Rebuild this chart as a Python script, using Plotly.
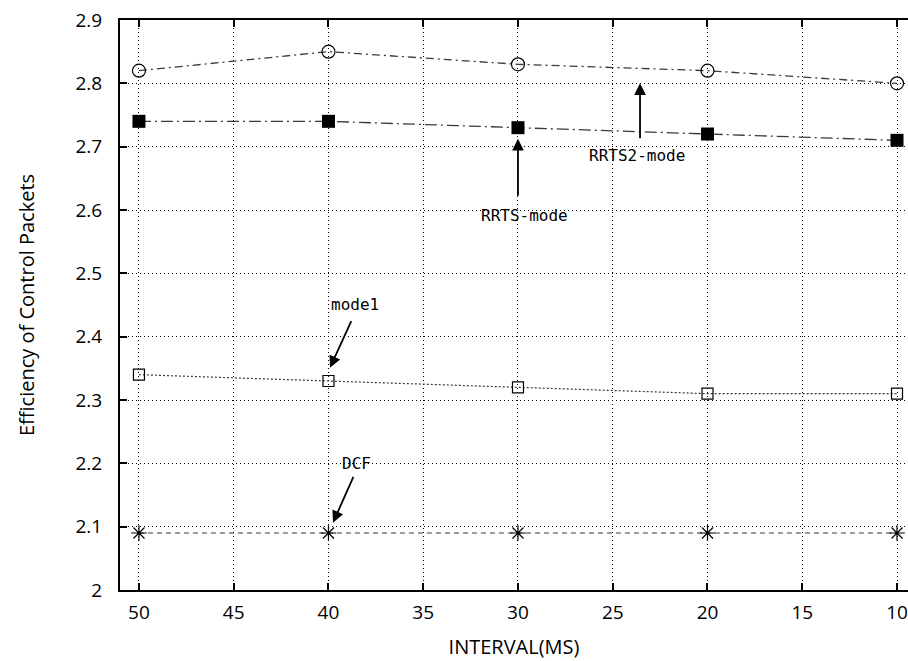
import plotly.graph_objects as go

intervals = [50, 40, 30, 20, 10]
rrts2_mode = [2.82, 2.85, 2.83, 2.82, 2.80]
rrts_mode = [2.74, 2.74, 2.73, 2.72, 2.71]
mode1 = [2.34, 2.33, 2.32, 2.31, 2.31]
dcf = [2.09, 2.09, 2.09, 2.09, 2.09]

x_ticks = [50, 45, 40, 35, 30, 25, 20, 15, 10]
y_ticks = [2.0, 2.1, 2.2, 2.3, 2.4, 2.5, 2.6, 2.7, 2.8, 2.9]
y_tick_text = ["2", "2.1", "2.2", "2.3", "2.4", "2.5", "2.6", "2.7", "2.8", "2.9"]

# labels: (text, text_x, text_y, tail_x, tail_y, tip_x, tip_y)
labels = [
    ("RRTS2-mode", 23.74, 2.686, 23.56, 2.711, 23.56, 2.800),
    ("RRTS-mode", 29.63, 2.591, 30.0, 2.620, 30.0, 2.7125),
    ("mode1", 38.6, 2.451, 38.76, 2.427, 39.92, 2.351),
    ("DCF", 38.5, 2.1995, 38.65, 2.181, 39.76, 2.1063),
]

line_col = "#3a3a3a"
fig = go.Figure()
fig.add_trace(go.Scatter(
    x=intervals, y=rrts2_mode, mode="lines+markers", name="RRTS2-mode",
    line=dict(color=line_col, width=1.3, dash="8px,4px,2px,4px"),
    marker=dict(symbol="circle-open", size=13, color="black", line=dict(width=1.2, color="black"))))
fig.add_trace(go.Scatter(
    x=intervals, y=rrts_mode, mode="lines+markers", name="RRTS-mode",
    line=dict(color=line_col, width=1.3, dash="12px,4px,2px,4px"),
    marker=dict(symbol="square", size=13, color="black")))
fig.add_trace(go.Scatter(
    x=intervals, y=mode1, mode="lines+markers", name="mode1",
    line=dict(color=line_col, width=1.2, dash="2px,2px"),
    marker=dict(symbol="square-open", size=11, color="black", line=dict(width=1.2, color="black"))))
fig.add_trace(go.Scatter(
    x=intervals, y=dcf, mode="lines+markers", name="DCF",
    line=dict(color=line_col, width=1.2, dash="5px,4px"),
    marker=dict(symbol="asterisk-open", size=13, color="black", line=dict(width=1.2, color="black"))))

mono = "DejaVu Sans Mono, Liberation Mono, monospace"
for text, tx, ty, ax_, ay_, px, py in labels:
    fig.add_annotation(x=tx, y=ty, text=text, showarrow=False,
                       font=dict(family=mono, size=16, color="black"),
                       xanchor="center", yanchor="middle")
    fig.add_annotation(x=px, y=py, ax=ax_, ay=ay_, axref="x", ayref="y",
                       xref="x", yref="y", text="", showarrow=True,
                       arrowhead=2, arrowsize=1.3, arrowwidth=1.8,
                       arrowcolor="black", standoff=0, startstandoff=0)

sans = "Open Sans, Noto Sans, sans-serif"
tick_font = dict(family=sans, size=19, color="black")
fig.update_layout(
    width=908, height=661,
    margin=dict(l=120, r=0, t=20, b=71),
    paper_bgcolor="white", plot_bgcolor="white",
    showlegend=False,
    xaxis=dict(
        range=[51.0, 9.42], tickvals=x_ticks, ticktext=[str(v) for v in x_ticks],
        ticks="inside", ticklen=7, tickwidth=2, tickcolor="black",
        showline=True, linewidth=2, linecolor="black", mirror="ticks",
        showgrid=True, gridcolor="black", gridwidth=1, griddash="1px,3px",
        zeroline=False, tickfont=tick_font, ticklabelstandoff=4,
        title=dict(text="INTERVAL(MS)", font=dict(family=sans, size=20, color="black"), standoff=16),
    ),
    yaxis=dict(
        range=[2.0, 2.9], tickvals=y_ticks, ticktext=y_tick_text,
        ticks="inside", ticklen=7, tickwidth=2, tickcolor="black",
        showline=True, linewidth=2, linecolor="black",
        showgrid=True, gridcolor="black", gridwidth=1, griddash="1px,3px",
        zeroline=False, tickfont=tick_font, ticklabelstandoff=12,
        title=dict(text="Efficiency of Control Packets", font=dict(family=sans, size=20, color="black"), standoff=35),
    ),
)

fig.write_html("out.html")
